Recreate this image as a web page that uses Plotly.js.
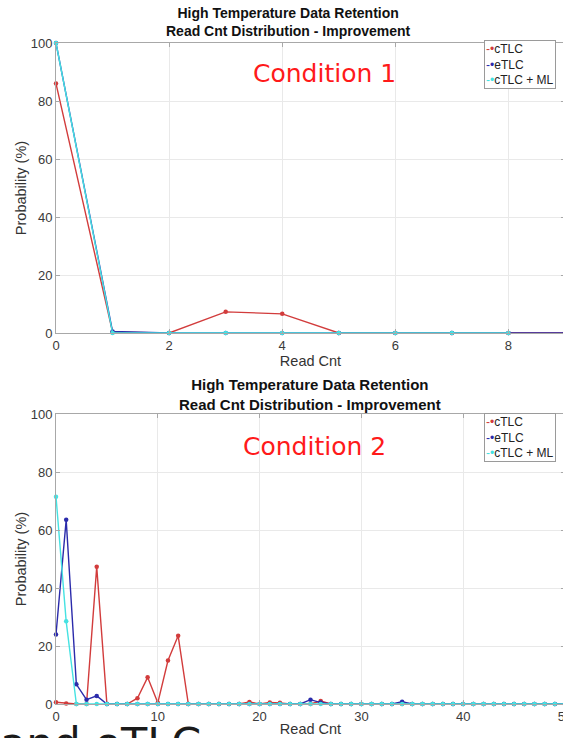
<!DOCTYPE html>
<html>
<head>
<meta charset="utf-8">
<script src="https://cdn.plot.ly/plotly-3.0.1.min.js"></script>
<style>
html,body{margin:0;padding:0;background:#fff;overflow:hidden;width:563px;height:738px;}
#chart{width:575px;height:738px;}
</style>
</head>
<body>
<div id="chart"></div>
<script>
// ---- Data ----
const seriesNames = ["cTLC", "eTLC", "cTLC + ML"];

// Condition 1
const readCntTop = [0, 1, 2, 3, 4, 5, 6, 7, 8, 9];
const readCntTopML = [0, 1, 2, 3, 4, 5, 6, 7, 8];
const cTLC_top = [86, 0.3, 0, 7.3, 6.6, 0, 0, 0, 0, 0];
const eTLC_top = [100, 0.5, 0, 0, 0, 0, 0, 0, 0, 0];
const ML_top = [100, 0, 0, 0, 0, 0, 0, 0, 0];

// Condition 2
const readCntBottom = [0, 1, 2, 3, 4, 5, 6, 7, 8, 9, 10, 11, 12, 13, 14, 15, 16, 17, 18, 19, 20,
  21, 22, 23, 24, 25, 26, 27, 28, 29, 30, 31, 32, 33, 34, 35, 36, 37, 38, 39, 40,
  41, 42, 43, 44, 45, 46, 47, 48, 49, 50];
const cTLC_bottom = [0.6, 0.2, 0, 0, 47.3, 0, 0, 0, 2, 9.2, 0.4, 15, 23.5, 0, 0, 0, 0, 0, 0, 0.7, 0,
  0.5, 0.4, 0, 0, 0, 1, 0, 0, 0, 0, 0, 0, 0, 0, 0, 0, 0, 0, 0, 0,
  0, 0, 0, 0, 0, 0, 0, 0, 0, 0];
const eTLC_bottom = [24, 63.5, 6.8, 1.5, 2.8, 0, 0, 0, 0, 0, 0, 0, 0, 0, 0, 0, 0, 0, 0, 0, 0,
  0, 0, 0, 0, 1.5, 0.5, 0, 0, 0, 0, 0, 0, 0, 0.8, 0, 0, 0, 0, 0, 0,
  0, 0, 0, 0, 0, 0, 0, 0, 0, 0];
const ML_bottom = [71.5, 28.5, 0, 0, 0, 0, 0, 0, 0, 0, 0, 0, 0, 0, 0, 0, 0, 0, 0, 0, 0,
  0, 0, 0, 0, 0, 0, 0, 0, 0, 0, 0, 0, 0, 0, 0, 0, 0, 0, 0, 0,
  0, 0, 0, 0, 0, 0, 0, 0, 0, 0];

const yTicks = [0, 20, 40, 60, 80, 100];
const xTicksTop = [0, 2, 4, 6, 8];
const xTicksBottom = [0, 10, 20, 30, 40, 50];
const titleLines = ["High Temperature Data Retention", "Read Cnt Distribution - Improvement"];
const conditionLabels = ["Condition 1", "Condition 2"];
const slideText = "and eTLC";

const colors = ["#d23c3c", "#2b2bab", "#45e2e2"];
const FONT = "Liberation Sans, Arial, Helvetica, sans-serif";

function tr(x, y, i, xa, ya) {
  return {
    x: x, y: y, name: seriesNames[i], type: "scatter", mode: "lines+markers",
    xaxis: xa, yaxis: ya, cliponaxis: false, showlegend: false,
    line: {color: colors[i], width: 1.4},
    marker: {color: colors[i], size: 4.5}
  };
}

const data = [
  tr(readCntTop, cTLC_top, 0, "x", "y"),
  tr(readCntTop, eTLC_top, 1, "x", "y"),
  tr(readCntTopML, ML_top, 2, "x", "y"),
  tr(readCntBottom, cTLC_bottom, 0, "x2", "y2"),
  tr(readCntBottom, eTLC_bottom, 1, "x2", "y2"),
  tr(readCntBottom, ML_bottom, 2, "x2", "y2")
];

const H = 738, L = 56, W = 575, R = 10;
const pw = W - L - R;
const px = v => (v - L) / pw;
const py = v => (H - v) / H;

function xax(range, ticks, anchor, titleText) {
  return {
    range: range, tickvals: ticks, anchor: anchor, domain: [0, 1],
    showgrid: true, gridcolor: "#e9e9e9", zeroline: false,
    showline: true, linecolor: "#a8a8a8", linewidth: 1, mirror: "ticks",
    ticks: "inside", ticklen: 4, tickcolor: "#a8a8a8",
    tickfont: {family: FONT, size: 13, color: "#3a3a3a"},
    title: {text: titleText, font: {family: FONT, size: 14.5, color: "#333"}, standoff: 1}
  };
}
function yax(domain, anchor) {
  return {
    range: [0, 100], tickvals: yTicks, anchor: anchor, domain: domain,
    showgrid: true, gridcolor: "#e9e9e9", zeroline: false,
    showline: true, linecolor: "#a8a8a8", linewidth: 1, mirror: "ticks",
    ticks: "inside", ticklen: 4, tickcolor: "#a8a8a8",
    tickfont: {family: FONT, size: 13, color: "#3a3a3a"},
    title: {text: "Probability (%)", font: {family: FONT, size: 14.5, color: "#333"}, standoff: 0}
  };
}

function legendText() {
  return seriesNames.map((n, i) =>
    '<span style="color:' + colors[i] + '">-•</span>' + n).join("<br>");
}
function legendAnn(topPx) {
  return {
    text: legendText(), xref: "paper", yref: "paper", x: px(484), y: py(topPx),
    xanchor: "left", yanchor: "top", align: "left", showarrow: false,
    bgcolor: "#ffffff", bordercolor: "#9a9a9a", borderwidth: 1, borderpad: 1,
    font: {family: FONT, size: 12, color: "#222"}
  };
}
const titleText = "<b>" + titleLines[0] + "</b><br><b>" + titleLines[1] + "</b>";

const layout = {
  width: W, height: H,
  margin: {l: L, r: R, t: 0, b: 0},
  paper_bgcolor: "#fff", plot_bgcolor: "#fff",
  showlegend: false,
  xaxis: xax([0, 9], xTicksTop, "y", "Read Cnt"),
  yaxis: yax([py(333), py(43)], "x"),
  xaxis2: xax([0, 50], xTicksBottom, "y2", "Read Cnt"),
  yaxis2: yax([py(704), py(414)], "x2"),
  annotations: [
    {text: titleText, xref: "paper", yref: "paper", x: px(288), y: py(3),
     xanchor: "center", yanchor: "top", showarrow: false,
     font: {family: FONT, size: 14, color: "#111"}},
    {text: titleText, xref: "paper", yref: "paper", x: px(310), y: py(374),
     xanchor: "center", yanchor: "top", showarrow: false,
     font: {family: FONT, size: 15, color: "#111"}},
    legendAnn(39.5),
    legendAnn(412.5),
    {text: conditionLabels[0], xref: "paper", yref: "paper", x: px(324.7), y: py(73.3),
     xanchor: "center", yanchor: "middle", showarrow: false,
     font: {family: "DejaVu Sans, sans-serif", size: 25, color: "#ff1a1a"}},
    {text: conditionLabels[1], xref: "paper", yref: "paper", x: px(314), y: py(446),
     xanchor: "center", yanchor: "middle", showarrow: false,
     font: {family: "DejaVu Sans, sans-serif", size: 25, color: "#ff1a1a"}},
    {text: slideText, xref: "paper", yref: "paper", x: px(-2), y: py(716),
     xanchor: "left", yanchor: "top", showarrow: false,
     font: {family: "DejaVu Sans, sans-serif", size: 43, color: "#1a1a1a"}}
  ]
};

Plotly.newPlot("chart", data, layout, {displayModeBar: false, staticPlot: true});
</script>
</body>
</html>
